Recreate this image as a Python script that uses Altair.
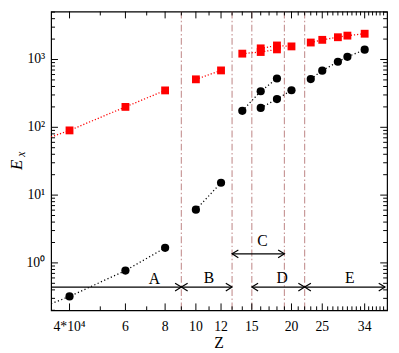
import math
import altair as alt
import pandas as pd

# ---------------- data ----------------
z_red = [4, 6, 8, 10, 12, 14, 16, 16, 18, 18, 20, 23, 25, 28, 30, 34]
e_red = [90, 200, 350, 510, 690, 1220, 1290, 1460, 1410, 1610, 1560, 1780, 1950, 2130, 2250, 2400]
seg_red = [1, 1, 1, 2, 2, 3, 3, 4, 3, 4, 4, 5, 5, 5, 5, 5]
red_lead_z = [3.5]
red_lead_e = [72]

z_blk = [4, 6, 8, 10, 12, 14, 16, 18, 16, 18, 20, 23, 25, 28, 30, 34]
e_blk = [0.32, 0.77, 1.67, 6.1, 15.2, 175, 340, 525, 193, 261, 352, 515, 685, 926, 1095, 1395]
seg_blk = [1, 1, 1, 2, 2, 3, 3, 3, 4, 4, 4, 5, 5, 5, 5, 5]
blk_lead_z = [3.5]
blk_lead_e = [0.25]

vline_z = [9, 13, 15, 19, 22]

arrow_start = [3.5, 9, 15, 22, 13]
arrow_end = [9, 13, 22, 39.4, 19]
arrow_e = [0.44, 0.44, 0.44, 0.44, 1.36]
head_right_z = [9, 13, 22, 39.4, 19]
head_right_e = [0.44, 0.44, 0.44, 0.44, 1.36]
head_left_z = [9, 15, 22, 13]
head_left_e = [0.44, 0.44, 0.44, 1.36]

lab_text = ["A", "B", "C", "D", "E"]
lab_z = [7.4, 11.0, 16.2, 18.7, 30.5]
lab_e = [0.57, 0.59, 2.13, 0.59, 0.59]

x_major = [4, 6, 8, 10, 12, 15, 20, 25, 34]
x_tick_labels = ["4*10\u2074", "6", "8", "10", "12", "15", "20", "25", "34"]
x_minor = [5, 7, 9, 11, 13, 14, 16, 17, 18, 19, 21, 22, 23, 24, 26, 27, 28, 29,
           30, 31, 32, 33, 35, 36, 37, 38, 39]
y_major = [1, 10, 100, 1000]
y_tick_labels = ["10\u2070", "10\u00b9", "10\u00b2", "10\u00b3"]
y_minor = [0.2, 0.3, 0.4, 0.5, 0.6, 0.7, 0.8, 0.9, 2, 3, 4, 5, 6, 7, 8, 9,
           20, 30, 40, 50, 60, 70, 80, 90, 200, 300, 400, 500, 600, 700, 800, 900,
           2000, 3000, 4000, 5000]

X_DOM = [3.5, 40]
Y_DOM = [0.2, 5100]
W, H = 343, 305
MAJ, MIN = 7, 4
FONT = "Liberation Serif"

# ---------------- tables ----------------
red_pts = pd.DataFrame({"z": z_red, "e": e_red, "seg": seg_red})
red_line = pd.concat([pd.DataFrame({"z": red_lead_z, "e": red_lead_e, "seg": [1]}), red_pts])
blk_pts = pd.DataFrame({"z": z_blk, "e": e_blk, "seg": seg_blk})
blk_line = pd.concat([pd.DataFrame({"z": blk_lead_z, "e": blk_lead_e, "seg": [1]}), blk_pts])
vl = pd.DataFrame({"z": vline_z})
arr = pd.DataFrame({"z": arrow_start, "z2": arrow_end, "e": arrow_e})
hr = pd.DataFrame({"z": head_right_z, "e": head_right_e})
hl = pd.DataFrame({"z": head_left_z, "e": head_left_e})
labs = pd.DataFrame({"z": lab_z, "e": lab_e, "t": lab_text})
xlab = pd.DataFrame({"z": x_major, "t": x_tick_labels})
ylab = pd.DataFrame({"e": y_major, "t": y_tick_labels})

xs = alt.Scale(type="log", domain=X_DOM)
ys = alt.Scale(type="log", domain=Y_DOM)


def X(f="z"):
    return alt.X(f"{f}:Q", scale=xs, axis=None)


def Y(f="e"):
    return alt.Y(f"{f}:Q", scale=ys, axis=None)


red_points = alt.Chart(red_pts).mark_point(shape="square", filled=True, color="#ff0000",
                                            size=64, opacity=1).encode(x=X(), y=Y())
blk_points = alt.Chart(blk_pts).mark_point(shape="circle", filled=True, color="black",
                                            size=70, opacity=1).encode(x=X(), y=Y())
red_lines = alt.Chart(red_line).mark_line(color="#ff0000", strokeDash=[1.2, 2], strokeWidth=1.3,
                                          clip=True).encode(x=X(), y=Y(), detail="seg:N")
blk_lines = alt.Chart(blk_line).mark_line(color="black", strokeDash=[1.2, 2.5], strokeWidth=1.3,
                                          clip=True).encode(x=X(), y=Y(), detail="seg:N")
vlines = alt.Chart(vl).mark_rule(color="#c89898", strokeDash=[7, 2.5, 1.5, 2.5],
                                 strokeWidth=1.2).encode(x=X())
arrows = alt.Chart(arr).mark_rule(color="black", strokeWidth=1.2).encode(x=X(), x2="z2:Q", y=Y())
heads_r = alt.Chart(hr).mark_point(shape="M-1.6,-1L0,0L-1.6,1", filled=False, color="black",
                                   size=64, strokeWidth=1.2, opacity=1).encode(x=X(), y=Y())
heads_l = alt.Chart(hl).mark_point(shape="M1.6,-1L0,0L1.6,1", filled=False, color="black",
                                   size=64, strokeWidth=1.2, opacity=1).encode(x=X(), y=Y())
texts = alt.Chart(labs).mark_text(font=FONT, fontSize=16, color="black").encode(
    x=X(), y=Y(), text="t:N")

# ---------------- inward tick marks, with both ends on the shared scales ----------------
x_dec = W / math.log10(X_DOM[1] / X_DOM[0])   # pixels per decade along Z
y_dec = H / math.log10(Y_DOM[1] / Y_DOM[0])   # pixels per decade along E


def x_in(edge, px, sign):
    return edge * 10 ** (sign * px / x_dec)


def y_in(edge, px, sign):
    return edge * 10 ** (sign * px / y_dec)


def xtick_layer(vals, length):
    rows = []
    for v in vals:
        rows.append({"v": v, "a": Y_DOM[0], "b": y_in(Y_DOM[0], length, 1)})
        rows.append({"v": v, "a": Y_DOM[1], "b": y_in(Y_DOM[1], length, -1)})
    return alt.Chart(pd.DataFrame(rows)).mark_rule(color="black", strokeWidth=1, opacity=1).encode(
        x=X("v"), y=Y("a"), y2="b:Q")


def ytick_layer(vals, length):
    rows = []
    for v in vals:
        rows.append({"v": v, "a": X_DOM[0], "b": x_in(X_DOM[0], length, 1)})
        rows.append({"v": v, "a": X_DOM[1], "b": x_in(X_DOM[1], length, -1)})
    return alt.Chart(pd.DataFrame(rows)).mark_rule(color="black", strokeWidth=1, opacity=1).encode(
        y=Y("v"), x=X("a"), x2="b:Q")


tick_layers = [xtick_layer(x_major, MAJ), xtick_layer(x_minor, MIN),
               ytick_layer(y_major, MAJ), ytick_layer(y_minor, MIN)]

# ---------------- tick labels and axis titles ----------------
x_labels = alt.Chart(xlab).mark_text(font=FONT, fontSize=14, color="black", baseline="middle").encode(
    x=X(), y=alt.value(H + 17), text="t:N")
y_labels = alt.Chart(ylab).mark_text(font=FONT, fontSize=14, color="black", baseline="middle",
                                     align="right").encode(
    y=Y(), x=alt.value(-6), text="t:N")
x_title = alt.Chart(pd.DataFrame({"t": ["Z"]})).mark_text(
    font=FONT, fontSize=16, color="black", baseline="middle").encode(
    x=alt.value(W / 2), y=alt.value(H + 33), text="t:N")
y_title = alt.Chart(pd.DataFrame({"t": ["E"]})).mark_text(
    font=FONT, fontSize=17, fontStyle="italic", color="black", baseline="middle", angle=270).encode(
    x=alt.value(-35), y=alt.value(H / 2 + 4), text="t:N")
y_title_sub = alt.Chart(pd.DataFrame({"t": ["x"]})).mark_text(
    font=FONT, fontSize=12, fontStyle="italic", color="black", baseline="middle", angle=270).encode(
    x=alt.value(-31), y=alt.value(H / 2 - 7), text="t:N")

chart = alt.layer(
    vlines, red_lines, blk_lines, red_points, blk_points, arrows, heads_r, heads_l,
    texts, x_labels, y_labels, x_title, y_title, y_title_sub, *tick_layers
).properties(
    width=W, height=H,
    autosize=alt.AutoSizeParams(type="none"),
    padding={"left": 44, "top": 0, "right": 4, "bottom": 40},
).configure_view(stroke="black", strokeWidth=1.2)

chart.save("out.html", embed_options={"renderer": "svg", "actions": False})
